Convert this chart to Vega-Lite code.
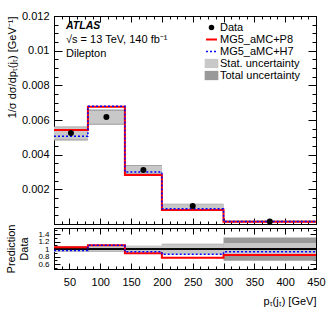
{
  "$schema": "https://vega.github.io/schema/vega-lite/v6.json",
  "background": "white",
  "padding": {"left": 5, "top": 9, "right": 0, "bottom": 0},
  "bounds": "flush",
  "config": {
    "font": "Liberation Sans",
    "view": {"stroke": "black", "strokeWidth": 1},
    "axis": {"grid": false, "domainColor": "black", "tickColor": "black", "labelFont": "Liberation Sans", "labelFontSize": 11, "labelColor": "black", "titleFont": "Liberation Sans", "titleFontSize": 11, "titleFontWeight": "normal", "titleColor": "black", "labelOverlap": false, "labelBound": false, "labelFlush": false}
  },
  "datasets": {
    "bins": [
      {"lo": 25, "hi": 80, "x": 52.5, "data": 0.00525, "stat_lo": 0.00487, "stat_hi": 0.00558, "tot_lo": 0.00482, "tot_hi": 0.00563, "rstat_lo": 0.93, "rstat_hi": 1.07, "rtot_lo": 0.92, "rtot_hi": 1.08},
      {"lo": 80, "hi": 140, "x": 110, "data": 0.00617, "stat_lo": 0.00579, "stat_hi": 0.00654, "tot_lo": 0.00573, "tot_hi": 0.0066, "rstat_lo": 0.94, "rstat_hi": 1.06, "rtot_lo": 0.93, "rtot_hi": 1.07},
      {"lo": 140, "hi": 200, "x": 170, "data": 0.00312, "stat_lo": 0.00292, "stat_hi": 0.00336, "tot_lo": 0.00287, "tot_hi": 0.00341, "rstat_lo": 0.93, "rstat_hi": 1.08, "rtot_lo": 0.92, "rtot_hi": 1.09},
      {"lo": 200, "hi": 300, "x": 250, "data": 0.00104, "stat_lo": 0.00092, "stat_hi": 0.00114, "tot_lo": 0.00089, "tot_hi": 0.00117, "rstat_lo": 0.87, "rstat_hi": 1.13, "rtot_lo": 0.86, "rtot_hi": 1.14},
      {"lo": 300, "hi": 450, "x": 375, "data": 0.00015, "stat_lo": 0.00013, "stat_hi": 0.000175, "tot_lo": 0.0001, "tot_hi": 0.0002, "rstat_lo": 0.87, "rstat_hi": 1.16, "rtot_lo": 0.69, "rtot_hi": 1.31}
    ],
    "curves": [
      {"x": 25, "model": "MG5_aMC+P8", "main": 0.00542, "ratio": 1.045},
      {"x": 80, "model": "MG5_aMC+P8", "main": 0.00677, "ratio": 1.1},
      {"x": 140, "model": "MG5_aMC+P8", "main": 0.00283, "ratio": 0.89},
      {"x": 200, "model": "MG5_aMC+P8", "main": 0.00081, "ratio": 0.77},
      {"x": 300, "model": "MG5_aMC+P8", "main": 0.00013, "ratio": 0.84},
      {"x": 450, "model": "MG5_aMC+P8", "main": 0.00013, "ratio": 0.84},
      {"x": 25, "model": "MG5_aMC+H7", "main": 0.00506, "ratio": 0.96},
      {"x": 80, "model": "MG5_aMC+H7", "main": 0.00679, "ratio": 1.1},
      {"x": 140, "model": "MG5_aMC+H7", "main": 0.003, "ratio": 0.93},
      {"x": 200, "model": "MG5_aMC+H7", "main": 0.00088, "ratio": 0.86},
      {"x": 300, "model": "MG5_aMC+H7", "main": 0.00014, "ratio": 0.93},
      {"x": 450, "model": "MG5_aMC+H7", "main": 0.00014, "ratio": 0.93}
    ]
  },
  "spacing": 4,
  "vconcat": [
    {
      "width": 262,
      "height": 208,
      "title": {"text": "ATLAS", "subtitle": ["√s = 13 TeV, 140 fb⁻¹", "Dilepton"], "anchor": "start", "frame": "group", "orient": "top", "offset": -49, "dx": 12, "font": "Liberation Sans", "fontSize": 10.5, "fontStyle": "italic", "fontWeight": "bold", "color": "black", "subtitleFont": "Liberation Sans", "subtitleFontSize": 11, "subtitleColor": "black", "subtitlePadding": 3, "subtitleLineHeight": 14},
      "resolve": {"axis": {"x": "independent", "y": "independent"}},
      "layer": [
        {
          "data": {"name": "bins"},
          "mark": {"type": "rect"},
          "encoding": {
            "x": {"field": "lo", "type": "quantitative", "scale": {"domain": [25, 450], "nice": false, "zero": false},
              "axis": {"orient": "bottom", "values": [25, 37.5, 50, 62.5, 75, 87.5, 100, 112.5, 125, 137.5, 150, 162.5, 175, 187.5, 200, 212.5, 225, 237.5, 250, 262.5, 275, 287.5, 300, 312.5, 325, 337.5, 350, 362.5, 375, 387.5, 400, 412.5, 425, 437.5, 450], "labels": false, "title": null, "tickSize": {"condition": {"test": "datum.value % 50 == 0", "value": -6}, "value": -3}}},
            "x2": {"field": "hi"},
            "y": {"field": "tot_lo", "type": "quantitative", "scale": {"domain": [0, 0.012], "nice": false},
              "axis": {"orient": "left", "values": [0.0005, 0.001, 0.0015, 0.002, 0.0025, 0.003, 0.0035, 0.004, 0.0045, 0.005, 0.0055, 0.006, 0.0065, 0.007, 0.0075, 0.008, 0.0085, 0.009, 0.0095, 0.01, 0.0105, 0.011, 0.0115, 0.012],
                "labelExpr": "round(datum.value*10000) % 20 == 0 ? format(datum.value, '~g') : ''",
                "tickSize": {"condition": {"test": "round(datum.value*10000) % 20 == 0", "value": -8}, "value": -4},
                "labelPadding": 13,
                "title": "1/σ dσ/dpₜ(jₜ) [GeV⁻¹]", "titleAnchor": "end", "titlePadding": 4}},
            "y2": {"field": "tot_hi"},
            "color": {"datum": "Total uncertainty", "type": "nominal", "title": null,
              "scale": {"domain": ["Data", "MG5_aMC+P8", "MG5_aMC+H7", "Stat. uncertainty", "Total uncertainty"], "range": ["black", "#ff0000", "#0000ff", "#c8c8c8", "#999999"]},
              "legend": {"orient": "none", "legendX": 152, "legendY": 6, "title": null, "labelFont": "Liberation Sans", "labelFontSize": 11, "labelColor": "black", "symbolSize": 120, "rowPadding": 0, "labelOffset": 3, "padding": 0,
                "encode": {"symbols": {"update": {
                  "shape": {"signal": "datum.value == 'Data' ? 'circle' : (datum.value == 'MG5_aMC+P8' || datum.value == 'MG5_aMC+H7') ? 'stroke' : 'M-1.25,-0.85H1.25V0.85H-1.25Z'"},
                  "size": {"signal": "datum.value == 'Data' ? 30 : 120"},
                  "fill": {"signal": "datum.value == 'Data' ? 'black' : datum.value == 'Stat. uncertainty' ? '#c8c8c8' : datum.value == 'Total uncertainty' ? '#999999' : 'transparent'"},
                  "stroke": {"signal": "datum.value == 'MG5_aMC+P8' ? '#ff0000' : datum.value == 'MG5_aMC+H7' ? '#0000ff' : 'transparent'"},
                  "strokeWidth": {"signal": "datum.value == 'MG5_aMC+P8' ? 2 : datum.value == 'MG5_aMC+H7' ? 1.5 : 0"},
                  "strokeDash": {"signal": "datum.value == 'MG5_aMC+H7' ? [2,2] : [1,0]"},
                  "opacity": {"value": 1}
                }}}}}
          }
        },
        {
          "data": {"name": "bins"},
          "mark": {"type": "rect"},
          "encoding": {
            "x": {"field": "lo", "type": "quantitative", "axis": null},
            "x2": {"field": "hi"},
            "y": {"field": "stat_lo", "type": "quantitative", "axis": null},
            "y2": {"field": "stat_hi"},
            "color": {"datum": "Stat. uncertainty", "type": "nominal", "title": null}
          }
        },
        {
          "data": {"name": "curves"},
          "transform": [{"filter": "datum.model == 'MG5_aMC+P8'"}],
          "mark": {"type": "line", "interpolate": "step-after", "strokeWidth": 2},
          "encoding": {
            "x": {"field": "x", "type": "quantitative", "axis": null},
            "y": {"field": "main", "type": "quantitative", "axis": null},
            "color": {"field": "model", "type": "nominal", "title": null}
          }
        },
        {
          "data": {"name": "curves"},
          "transform": [{"filter": "datum.model == 'MG5_aMC+H7'"}],
          "mark": {"type": "line", "interpolate": "step-after", "strokeWidth": 1.5, "strokeDash": [2, 2]},
          "encoding": {
            "x": {"field": "x", "type": "quantitative", "axis": null},
            "y": {"field": "main", "type": "quantitative", "axis": null},
            "color": {"field": "model", "type": "nominal", "title": null}
          }
        },
        {
          "data": {"name": "bins"},
          "mark": {"type": "point", "filled": true, "size": 36, "opacity": 1},
          "encoding": {
            "x": {"field": "x", "type": "quantitative", "axis": null},
            "y": {"field": "data", "type": "quantitative", "axis": null},
            "color": {"datum": "Data", "type": "nominal", "title": null}
          }
        },
        {
          "data": {"name": "bins"},
          "mark": {"type": "point", "opacity": 0},
          "encoding": {
            "x": {"field": "lo", "type": "quantitative",
              "axis": {"orient": "top", "values": [25, 37.5, 50, 62.5, 75, 87.5, 100, 112.5, 125, 137.5, 150, 162.5, 175, 187.5, 200, 212.5, 225, 237.5, 250, 262.5, 275, 287.5, 300, 312.5, 325, 337.5, 350, 362.5, 375, 387.5, 400, 412.5, 425, 437.5, 450], "labels": false, "title": null, "tickSize": {"condition": {"test": "datum.value % 50 == 0", "value": -6}, "value": -3}}},
            "y": {"field": "data", "type": "quantitative",
              "axis": {"orient": "right", "values": [0.0005, 0.001, 0.0015, 0.002, 0.0025, 0.003, 0.0035, 0.004, 0.0045, 0.005, 0.0055, 0.006, 0.0065, 0.007, 0.0075, 0.008, 0.0085, 0.009, 0.0095, 0.01, 0.0105, 0.011, 0.0115, 0.012], "labels": false, "title": null, "tickSize": {"condition": {"test": "round(datum.value*10000) % 20 == 0", "value": -8}, "value": -4}}}
          }
        }
      ]
    },
    {
      "width": 262,
      "height": 41,
      "resolve": {"axis": {"x": "independent", "y": "independent"}},
      "layer": [
        {
          "data": {"name": "bins"},
          "mark": {"type": "rect", "color": "#999999"},
          "encoding": {
            "x": {"field": "lo", "type": "quantitative", "scale": {"domain": [25, 450], "nice": false, "zero": false},
              "axis": {"orient": "bottom", "values": [25, 37.5, 50, 62.5, 75, 87.5, 100, 112.5, 125, 137.5, 150, 162.5, 175, 187.5, 200, 212.5, 225, 237.5, 250, 262.5, 275, 287.5, 300, 312.5, 325, 337.5, 350, 362.5, 375, 387.5, 400, 412.5, 425, 437.5, 450],
                "labelExpr": "datum.value % 50 == 0 ? format(datum.value, 'd') : ''",
                "tickSize": {"condition": {"test": "datum.value % 50 == 0", "value": -6}, "value": -3},
                "labelPadding": 13,
                "title": "pₜ(jₜ) [GeV]", "titleAnchor": "end", "titlePadding": 5}},
            "x2": {"field": "hi"},
            "y": {"field": "rtot_lo", "type": "quantitative", "scale": {"domain": [0.47, 1.56], "nice": false, "zero": false},
              "axis": {"orient": "left", "values": [0.5, 0.6, 0.7, 0.8, 0.9, 1, 1.1, 1.2, 1.3, 1.4, 1.5],
                "labelExpr": "round(datum.value*10) % 2 == 0 ? format(datum.value, '~g') : ''",
                "labelFontSize": 8,
                "tickSize": {"condition": {"test": "round(datum.value*10) % 2 == 0", "value": -6}, "value": -3},
                "labelPadding": 11,
                "title": ["Prediction", "Data"], "titleAnchor": "middle", "titlePadding": 8}},
            "y2": {"field": "rtot_hi"}
          }
        },
        {
          "data": {"name": "bins"},
          "mark": {"type": "rect", "color": "#c8c8c8"},
          "encoding": {
            "x": {"field": "lo", "type": "quantitative", "axis": null},
            "x2": {"field": "hi"},
            "y": {"field": "rstat_lo", "type": "quantitative", "axis": null},
            "y2": {"field": "rstat_hi"}
          }
        },
        {
          "data": {"name": "bins"},
          "mark": {"type": "rule", "color": "black", "strokeWidth": 1},
          "encoding": {
            "x": {"datum": 25, "type": "quantitative", "axis": null},
            "x2": {"datum": 450},
            "y": {"datum": 1, "type": "quantitative", "axis": null}
          }
        },
        {
          "data": {"name": "curves"},
          "transform": [{"filter": "datum.model == 'MG5_aMC+P8'"}],
          "mark": {"type": "line", "interpolate": "step-after", "strokeWidth": 2, "color": "#ff0000"},
          "encoding": {
            "x": {"field": "x", "type": "quantitative", "axis": null},
            "y": {"field": "ratio", "type": "quantitative", "axis": null}
          }
        },
        {
          "data": {"name": "curves"},
          "transform": [{"filter": "datum.model == 'MG5_aMC+H7'"}],
          "mark": {"type": "line", "interpolate": "step-after", "strokeWidth": 1.5, "strokeDash": [2, 2], "color": "#0000ff"},
          "encoding": {
            "x": {"field": "x", "type": "quantitative", "axis": null},
            "y": {"field": "ratio", "type": "quantitative", "axis": null}
          }
        },
        {
          "data": {"name": "bins"},
          "mark": {"type": "point", "opacity": 0},
          "encoding": {
            "x": {"field": "lo", "type": "quantitative",
              "axis": {"orient": "top", "values": [25, 37.5, 50, 62.5, 75, 87.5, 100, 112.5, 125, 137.5, 150, 162.5, 175, 187.5, 200, 212.5, 225, 237.5, 250, 262.5, 275, 287.5, 300, 312.5, 325, 337.5, 350, 362.5, 375, 387.5, 400, 412.5, 425, 437.5, 450], "labels": false, "title": null, "tickSize": {"condition": {"test": "datum.value % 50 == 0", "value": -6}, "value": -3}}},
            "y": {"field": "rtot_lo", "type": "quantitative",
              "axis": {"orient": "right", "values": [0.5, 0.6, 0.7, 0.8, 0.9, 1, 1.1, 1.2, 1.3, 1.4, 1.5], "labels": false, "title": null, "tickSize": {"condition": {"test": "round(datum.value*10) % 2 == 0", "value": -6}, "value": -3}}}
          }
        }
      ]
    }
  ]
}
